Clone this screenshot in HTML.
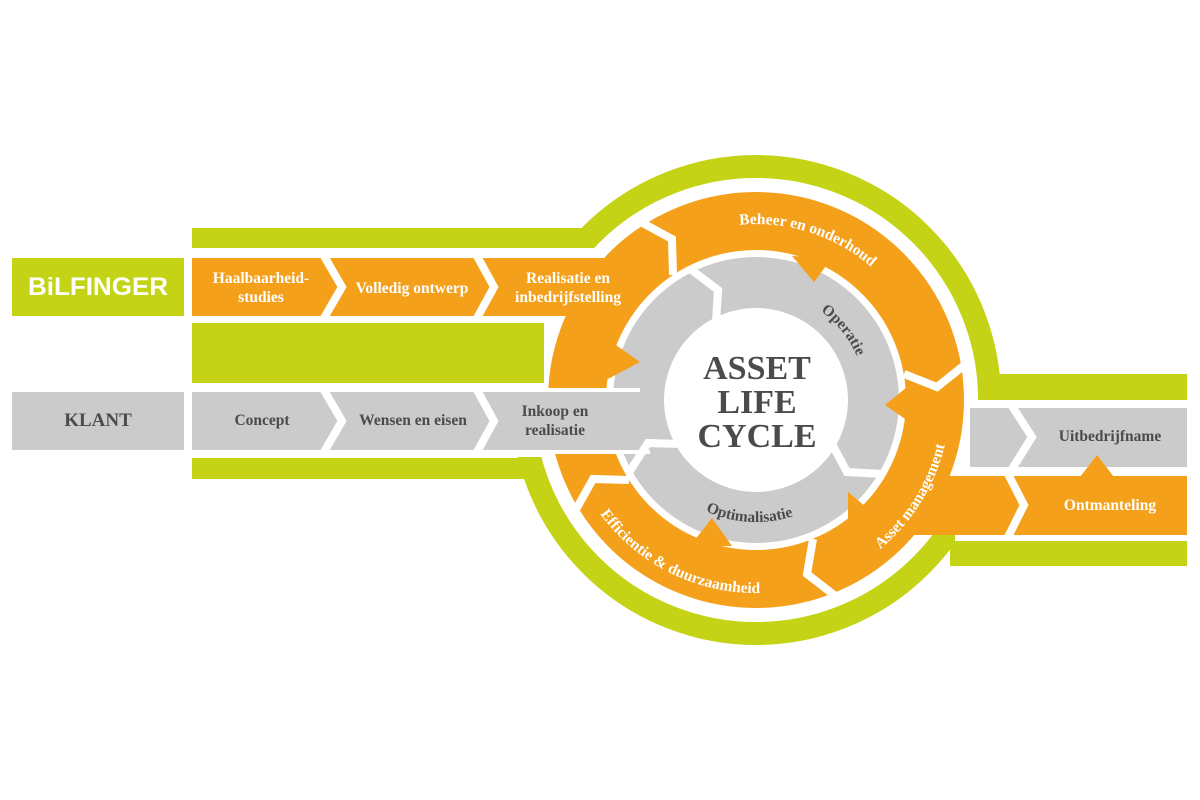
<!DOCTYPE html>
<html><head><meta charset="utf-8"><style>
html,body{margin:0;padding:0;background:#fff;}
svg{display:block;}
.s{font-family:"Liberation Serif","DejaVu Serif",serif;font-weight:bold;}
</style></head><body>
<svg width="1200" height="800" viewBox="0 0 1200 800" xmlns="http://www.w3.org/2000/svg">
<defs>
<path id="pBeheer" d="M737.6,225 A176,176 0 0 1 890.8,286.8"/>
<path id="pOper" d="M819.1,309.9 A110,110 0 0 1 864.4,380.9"/>
<path id="pOpt" d="M695,505.7 A122,122 0 0 0 817,505.7"/>
<path id="pEff" d="M597.9,510.7 A193,193 0 0 0 806,586.4"/>
<path id="pAsset" d="M875.5,552.9 A194,194 0 0 0 949.3,416.9"/>
</defs>
<circle cx="756" cy="400" r="233.5" fill="none" stroke="#c5d316" stroke-width="23"/>
<rect x="480" y="248" width="120" height="209" fill="#fff"/>
<rect x="955" y="400" width="60" height="142" fill="#fff"/>
<rect x="192" y="228" width="410" height="20" fill="#c5d316"/>
<rect x="192" y="458" width="350" height="21" fill="#c5d316"/>
<rect x="980" y="374" width="207" height="26" fill="#c5d316"/>
<rect x="950" y="541" width="237" height="25" fill="#c5d316"/>
<circle cx="756" cy="400" r="215" fill="none" stroke="#fff" stroke-width="14"/>
<rect x="192" y="323" width="352" height="60" fill="#c5d316"/>
<rect x="12" y="258" width="172" height="58" fill="#c5d316"/>
<rect x="12" y="392" width="172" height="58" fill="#cccbcb"/>
<circle cx="756" cy="400" r="179" fill="none" stroke="#f4a01b" stroke-width="58"/>
<rect x="192" y="258" width="430" height="58" fill="#f4a01b"/>
<rect x="900" y="476" width="287" height="59" fill="#f4a01b"/>
<circle cx="756" cy="400" r="117.5" fill="none" stroke="#cccbcb" stroke-width="51"/>
<rect x="192" y="392" width="470" height="58" fill="#cccbcb"/>
<line x1="540" y1="390" x2="640" y2="390" stroke="#fff" stroke-width="4"/>
<line x1="520" y1="452" x2="650" y2="452" stroke="#fff" stroke-width="4"/>
<rect x="970" y="408" width="217" height="59" fill="#cccbcb"/>
<circle cx="756" cy="400" r="90" fill="#fff"/>
<polygon points="606,338 640,362 606,380" fill="#f4a01b"/>
<polygon points="792,256 832,258 814,282" fill="#f4a01b"/>
<polygon points="918,378 885,405 918,428" fill="#f4a01b"/>
<polygon points="690,546 712,518 732,546" fill="#f4a01b"/>
<polygon points="848,492 872,512 848,528" fill="#f4a01b"/>
<polygon points="1080,477 1097,455 1114,477" fill="#f4a01b"/>
<g fill="none" stroke="#fff" stroke-width="8" stroke-linejoin="miter">
<polyline points="673,275 672,239 639,221"/>
<polyline points="904,374 937,387 967,363"/>
<polyline points="813,539 807,574 838,598"/>
<polyline points="629,480 593,479 574,513"/>
<polyline points="716,322 718,290 689,268"/>
<polyline points="832,444 847,472 883,474"/>
<polyline points="680,444 648,443 628,474"/>
<polyline points="324,256 342,287 324,318"/>
<polyline points="477,256 494,287 477,318"/>
<polyline points="324,390 342,421 324,452"/>
<polyline points="477,390 494,421 477,452"/>
<polyline points="1012,406 1032,437 1012,469"/>
<polyline points="1008,474 1024,505 1008,537"/>
</g>
<text x="98" y="295" text-anchor="middle" font-family="Liberation Sans,sans-serif" font-weight="bold" font-size="25" fill="#fff" textLength="140" lengthAdjust="spacingAndGlyphs">BiLFINGER</text>
<text class="s" x="98" y="426" text-anchor="middle" font-size="19" fill="#4b4b4d">KLANT</text>
<g class="s" font-size="15.5" fill="#fff" text-anchor="middle">
<text x="261" y="283">Haalbaarheid-</text><text x="261" y="302">studies</text>
<text x="412" y="293">Volledig ontwerp</text>
<text x="568" y="283">Realisatie en</text><text x="568" y="302">inbedrijfstelling</text>
<text x="1110" y="510">Ontmanteling</text>
</g>
<g class="s" font-size="15.5" fill="#4b4b4d" text-anchor="middle">
<text x="262" y="425">Concept</text>
<text x="413" y="425">Wensen en eisen</text>
<text x="555" y="416">Inkoop en</text><text x="555" y="435">realisatie</text>
<text x="1110" y="441">Uitbedrijfname</text>
</g>
<g class="s" font-size="34" fill="#4b4b4d" text-anchor="middle">
<text x="757" y="379">ASSET</text>
<text x="757" y="413">LIFE</text>
<text x="757" y="447">CYCLE</text>
</g>
<g class="s" font-size="15.5" fill="#fff">
<text><textPath href="#pBeheer" startOffset="2">Beheer en onderhoud</textPath></text>
<text><textPath href="#pEff" startOffset="4">Efficientie &amp; duurzaamheid</textPath></text>
<text><textPath href="#pAsset" startOffset="6">Asset management</textPath></text>
</g>
<g class="s" font-size="15.5" fill="#4b4b4d">
<text><textPath href="#pOper" startOffset="2">Operatie</textPath></text>
<text><textPath href="#pOpt" startOffset="12">Optimalisatie</textPath></text>
</g>
</svg>
</body></html>
